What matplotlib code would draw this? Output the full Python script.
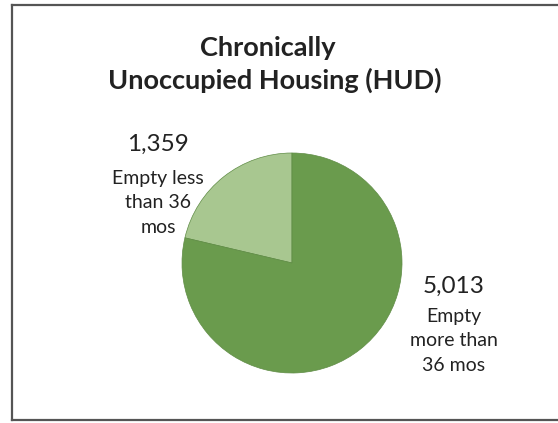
import matplotlib.pyplot as plt

# Data
categories = ['Empty less\nthan 36\nmos', 'Empty\nmore than\n36 mos']
values = [1359, 5013]
colors = ['#a8c790', '#6a9b4d']

W, H = 558, 423
fig = plt.figure(figsize=(W / 100, H / 100), dpi=100)
ax = fig.add_axes([0, 0, 1, 1])

# Pie, drawn in pixel-like coordinates
ax.pie(values, colors=colors, startangle=90, counterclock=True,
       center=(292, H - 263), radius=110,
       wedgeprops=dict(edgecolor='#5f8c45', linewidth=0.5))
ax.set_xlim(0, W)
ax.set_ylim(0, H)
ax.set_aspect('auto')
ax.axis('off')

# Chart frame (left, top, bottom edges)
ax.plot([12, 12], [3, H - 5], color='#555555', lw=1.6, clip_on=False)
ax.plot([12, W], [H - 5, H - 5], color='#555555', lw=1.6, clip_on=False)
ax.plot([12, W], [3, 3], color='#555555', lw=1.6, clip_on=False)

# Title
font = 'Lato'
ax.text(268, H - 56, 'Chronically', ha='center', va='baseline',
        fontsize=19.5, fontweight='bold', family=font, color='#222222')
ax.text(275, H - 89, 'Unoccupied Housing (HUD)', ha='center', va='baseline',
        fontsize=19.5, fontweight='bold', family=font, color='#222222')

# Data labels: (x, number baseline, first sub-line baseline)
label_pos = [(158, 151, 184), (454, 293, 322)]
for (x, yn, ys), v, cat in zip(label_pos, values, categories):
    ax.text(x, H - yn, f'{v:,}', ha='center', va='baseline',
            fontsize=17.5, family=font, color='#222222')
    for i, line in enumerate(cat.split('\n')):
        ax.text(x, H - ys - 24.3 * i, line, ha='center', va='baseline',
                fontsize=14, family=font, color='#222222')

fig.savefig('out.png', dpi=100)
